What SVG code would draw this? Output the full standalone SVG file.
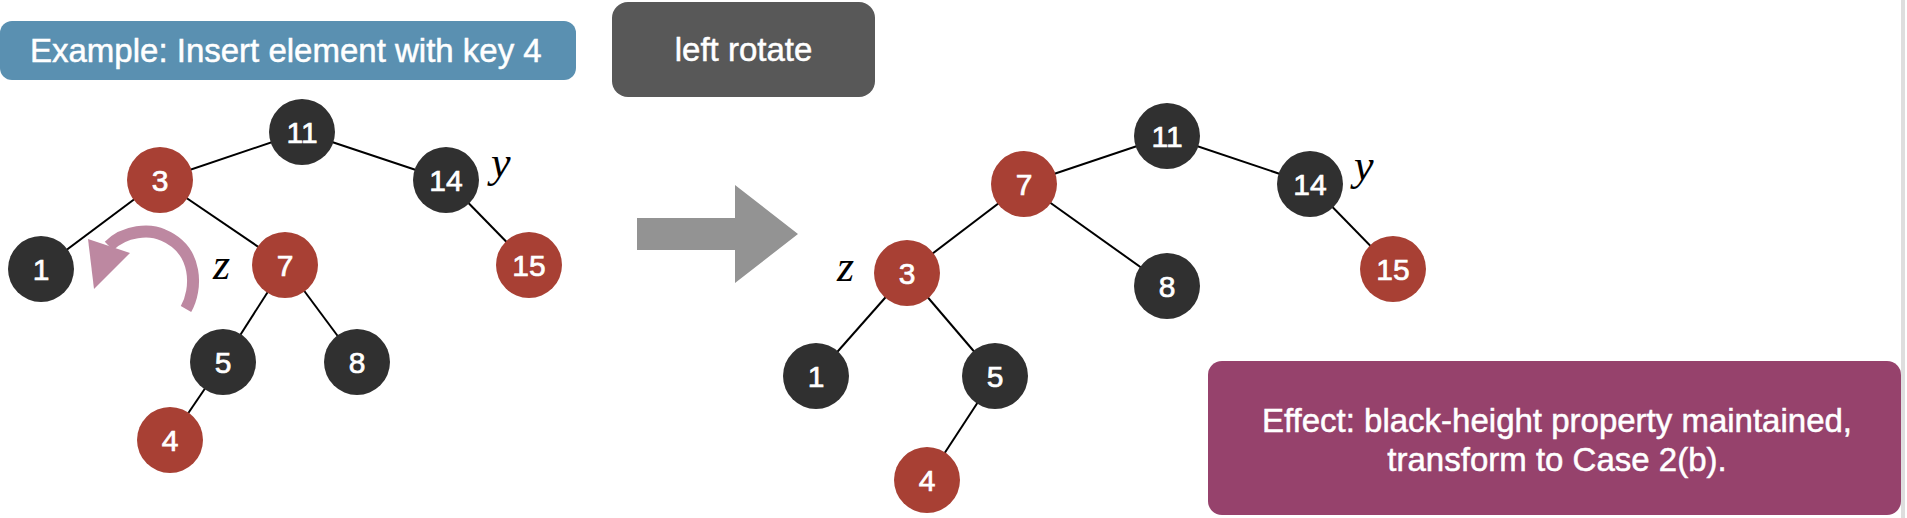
<svg xmlns="http://www.w3.org/2000/svg" width="1907" height="518" viewBox="0 0 1907 518">
<style>
.bg{fill:#ffffff}
.edge{stroke:#000;stroke-width:2;fill:none}
.blk{fill:#303030}
.red{fill:#A84034}
.nl{fill:#fff;stroke:#fff;stroke-width:0.7;font-family:"Liberation Sans",Arial,sans-serif;font-size:30px;text-anchor:middle}
.lbl{fill:#fff;stroke:#fff;stroke-width:0.5;font-family:"Liberation Sans",Arial,sans-serif;font-size:33px}
.var{fill:#000;font-family:"Liberation Serif","Times New Roman",serif;font-style:italic;font-size:44px}
</style>
<rect class="bg" x="0" y="0" width="1907" height="518"/>
<rect x="1901" y="0" width="4" height="518" fill="#DEDEDE"/>

<g id="title-box">
<rect x="0" y="21" width="576" height="59" rx="12" fill="#5A90B1"/>
<text class="lbl" x="30" y="62">Example: Insert element with key 4</text>
</g>
<g id="rotate-box">
<rect x="612" y="2" width="263" height="95" rx="16" fill="#585858"/>
<text class="lbl" x="743.5" y="61" text-anchor="middle">left rotate</text>
</g>
<g id="effect-box">
<rect x="1208" y="361" width="693" height="154" rx="14" fill="#96426C"/>
<text class="lbl" x="1557" y="432" text-anchor="middle">Effect: black-height property maintained,</text>
<text class="lbl" x="1557" y="471" text-anchor="middle">transform to Case 2(b).</text>
</g>

<g id="transform-arrow">
<polygon points="637,218 735,218 735,185 798,234 735,283 735,250 637,250" fill="#939393"/>
</g>

<g id="rotation-arrow">
<path d="M186,309 C197,290 199,250 163,235 C150,229 125,230 109,246" stroke="#BD88A1" stroke-width="12" fill="none"/>
<polygon points="88,239 130,253 94,289" fill="#BD88A1"/>
</g>

<g id="connectors">
<line class="edge" x1="302" y1="132" x2="160" y2="180"/>
<line class="edge" x1="302" y1="132" x2="446" y2="180"/>
<line class="edge" x1="160" y1="180" x2="41" y2="269"/>
<line class="edge" x1="160" y1="180" x2="285" y2="265"/>
<line class="edge" x1="446" y1="180" x2="529" y2="265"/>
<line class="edge" x1="285" y1="265" x2="223" y2="362"/>
<line class="edge" x1="285" y1="265" x2="357" y2="362"/>
<line class="edge" x1="223" y1="362" x2="170" y2="440"/>

<line class="edge" x1="1167" y1="136" x2="1024" y2="184"/>
<line class="edge" x1="1167" y1="136" x2="1310" y2="184"/>
<line class="edge" x1="1024" y1="184" x2="907" y2="273"/>
<line class="edge" x1="1024" y1="184" x2="1167" y2="286"/>
<line class="edge" x1="1310" y1="184" x2="1393" y2="269"/>
<line class="edge" x1="907" y1="273" x2="816" y2="376"/>
<line class="edge" x1="907" y1="273" x2="995" y2="376"/>
<line class="edge" x1="995" y1="376" x2="927" y2="480"/>
</g>

<g id="L11"><circle class="blk" cx="302" cy="132" r="33"/><text class="nl" x="302" y="143">11</text></g>
<g id="L3"><circle class="red" cx="160" cy="180" r="33"/><text class="nl" x="160" y="191">3</text></g>
<g id="L14"><circle class="blk" cx="446" cy="180" r="33"/><text class="nl" x="446" y="191">14</text></g>
<g id="L1"><circle class="blk" cx="41" cy="269" r="33"/><text class="nl" x="41" y="280">1</text></g>
<g id="L7"><circle class="red" cx="285" cy="265" r="33"/><text class="nl" x="285" y="276">7</text></g>
<g id="L15"><circle class="red" cx="529" cy="265" r="33"/><text class="nl" x="529" y="276">15</text></g>
<g id="L5"><circle class="blk" cx="223" cy="362" r="33"/><text class="nl" x="223" y="373">5</text></g>
<g id="L8"><circle class="blk" cx="357" cy="362" r="33"/><text class="nl" x="357" y="373">8</text></g>
<g id="L4"><circle class="red" cx="170" cy="440" r="33"/><text class="nl" x="170" y="451">4</text></g>
<text class="var" x="213" y="279">z</text>
<text class="var" x="491" y="177">y</text>

<g id="R11"><circle class="blk" cx="1167" cy="136" r="33"/><text class="nl" x="1167" y="147">11</text></g>
<g id="R7"><circle class="red" cx="1024" cy="184" r="33"/><text class="nl" x="1024" y="195">7</text></g>
<g id="R14"><circle class="blk" cx="1310" cy="184" r="33"/><text class="nl" x="1310" y="195">14</text></g>
<g id="R3"><circle class="red" cx="907" cy="273" r="33"/><text class="nl" x="907" y="284">3</text></g>
<g id="R8"><circle class="blk" cx="1167" cy="286" r="33"/><text class="nl" x="1167" y="297">8</text></g>
<g id="R15"><circle class="red" cx="1393" cy="269" r="33"/><text class="nl" x="1393" y="280">15</text></g>
<g id="R1"><circle class="blk" cx="816" cy="376" r="33"/><text class="nl" x="816" y="387">1</text></g>
<g id="R5"><circle class="blk" cx="995" cy="376" r="33"/><text class="nl" x="995" y="387">5</text></g>
<g id="R4"><circle class="red" cx="927" cy="480" r="33"/><text class="nl" x="927" y="491">4</text></g>
<text class="var" x="837" y="281">z</text>
<text class="var" x="1354" y="180">y</text>
</svg>
